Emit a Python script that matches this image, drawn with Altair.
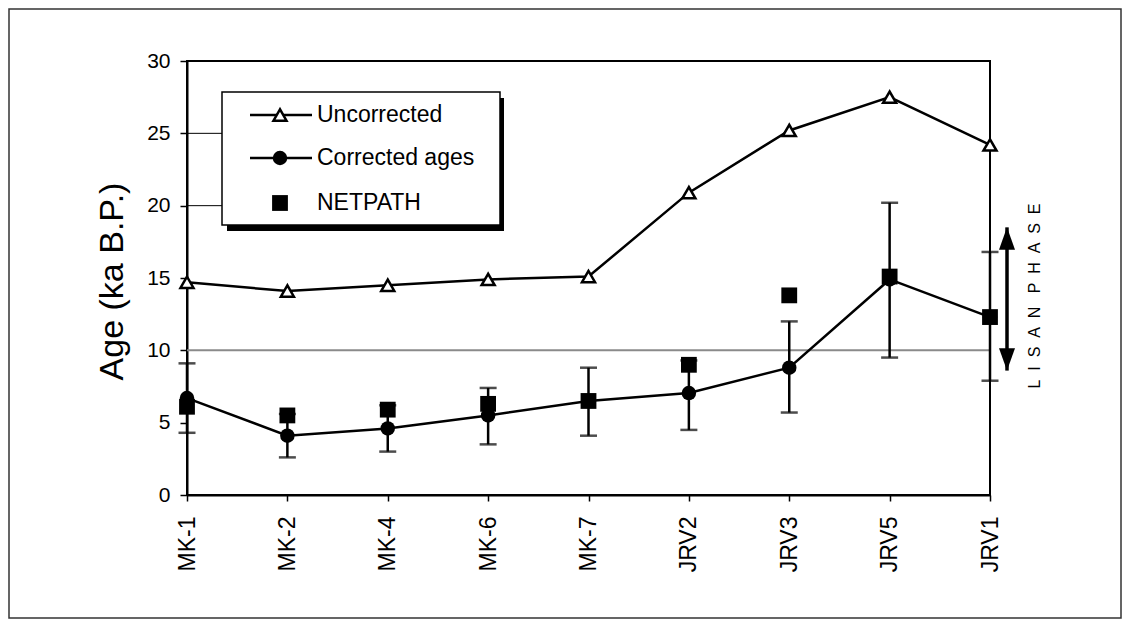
import altair as alt
import pandas as pd

# ---- data ----
samples = ["MK-1", "MK-2", "MK-4", "MK-6", "MK-7", "JRV2", "JRV3", "JRV5", "JRV1"]
uncorrected = [14.7, 14.1, 14.5, 14.9, 15.1, 20.9, 25.2, 27.5, 24.2]
corrected = [6.7, 4.1, 4.6, 5.5, 6.5, 7.05, 8.8, 14.9, 12.3]
err_low = [4.3, 2.6, 3.0, 3.5, 4.1, 4.5, 5.7, 9.5, 7.9]
err_high = [9.1, 5.6, 6.2, 7.4, 8.8, 9.3, 12.0, 20.2, 16.8]
netpath = [6.1, 5.5, 5.9, 6.3, 6.5, 9.0, 13.8, 15.1, 12.3]
y_ticks = [0, 5, 10, 15, 20, 25, 30]
grid_at = [10]
stub_lines = [20, 25]
lisan_range = [8.6, 18.5]
legend_labels = ["Uncorrected", "Corrected ages", "NETPATH"]
lisan_text = "\u00a0\u00a0".join(list("LISAN")) + "\u00a0" * 3 + "\u00a0\u00a0".join(list("PHASE"))

df = pd.DataFrame({
    "sample": samples, "unc": uncorrected, "cor": corrected,
    "lo": err_low, "hi": err_high, "net": netpath,
})

FONT = "Liberation Sans"
W, H = 803, 434
LW = 2.5

xenc = alt.X("sample:N", sort=samples,
             scale=alt.Scale(type="point", padding=0),
             axis=alt.Axis(title=None, labelAngle=270, labelFontSize=23, labelFont=FONT,
                           labelColor="black", labelPadding=15, tickSize=6, tickWidth=1.5,
                           tickColor="black", domainColor="black", domainWidth=2,
                           labelOverlap=False, grid=False))

yscale = alt.Scale(domain=[0, 30], nice=False, zero=True)
yaxis = alt.Axis(values=y_ticks, title="Age (ka B.P.)", titleFontSize=34, titleFont=FONT,
                 titleFontWeight="normal", titleColor="black", titleAngle=270,
                 titleX=-75, titleY=220, titleAlign="center", titleBaseline="middle",
                 labelFontSize=21, labelFont=FONT, labelColor="black", labelPadding=10,
                 tickSize=7, tickWidth=1.5, tickColor="black", domainColor="black",
                 domainWidth=2, grid=False)


def Y(field):
    return alt.Y(field, scale=yscale, axis=yaxis, title="Age (ka B.P.)")


base = alt.Chart(df)

# outer figure border
border = alt.Chart(pd.DataFrame({"a": [0]})).mark_rect(
    fill=None, stroke="#333333", strokeWidth=1.5).encode(
    x=alt.value(-178), x2=alt.value(934), y=alt.value(-52), y2=alt.value(557))

grid = alt.Chart(pd.DataFrame({"v": grid_at})).mark_rule(
    color="#8a8a8a", strokeWidth=2).encode(y=Y("v:Q"), x=alt.value(0), x2=alt.value(W))

stubs = alt.Chart(pd.DataFrame({"v": stub_lines})).mark_rule(
    color="black", strokeWidth=1).encode(y=Y("v:Q"), x=alt.value(0), x2=alt.value(35))

unc_line = base.mark_line(color="black", strokeWidth=LW).encode(x=xenc, y=Y("unc:Q"))
unc_pts = base.mark_point(shape="triangle-up", size=170, filled=True, fill="white",
                          stroke="black", strokeWidth=2.5, opacity=1).encode(x=xenc, y=Y("unc:Q"))

err_rule = base.mark_rule(color="black", strokeWidth=LW).encode(x=xenc, y=Y("lo:Q"), y2="hi:Q")
err_lo = base.mark_tick(color="black", size=17, thickness=2.5).encode(x=xenc, y=Y("lo:Q"))
err_hi = base.mark_tick(color="black", size=17, thickness=2.5).encode(x=xenc, y=Y("hi:Q"))

cor_line = base.mark_line(color="black", strokeWidth=LW).encode(x=xenc, y=Y("cor:Q"))
cor_pts = base.mark_point(shape="circle", size=210, filled=True, color="black",
                          opacity=1).encode(x=xenc, y=Y("cor:Q"))

net_pts = base.mark_point(shape="square", size=250, filled=True, color="black",
                          opacity=1).encode(x=xenc, y=Y("net:Q"))

# Lisan phase double arrow + label
arrow_df = pd.DataFrame({"lo": [lisan_range[0]], "hi": [lisan_range[1]]})
arrow_shaft = alt.Chart(arrow_df).mark_rule(color="black", strokeWidth=3.5).encode(
    x=alt.value(820), y=Y("hi:Q"), y2="lo:Q")
arrow_top = alt.Chart(arrow_df).mark_point(
    shape="M0,0L-1,2.8L1,2.8Z", size=256, filled=True, color="black", opacity=1).encode(
    x=alt.value(820), y=Y("hi:Q"))
arrow_bot = alt.Chart(arrow_df).mark_point(
    shape="M0,0L-1,-2.8L1,-2.8Z", size=256, filled=True, color="black", opacity=1).encode(
    x=alt.value(820), y=Y("lo:Q"))
lisan = alt.Chart(pd.DataFrame({"t": [lisan_text]})).mark_text(
    angle=270, fontSize=16, font=FONT, color="black", align="center", baseline="middle").encode(
    text="t:N", x=alt.value(848), y=alt.value(235))

# legend (drawn by hand, Excel style with drop shadow)
leg_df = pd.DataFrame({"label": legend_labels})
leg_shadow = alt.Chart(pd.DataFrame({"a": [0]})).mark_rect(fill="black").encode(
    x=alt.value(40), x2=alt.value(317), y=alt.value(37), y2=alt.value(170))
leg_box = alt.Chart(pd.DataFrame({"a": [0]})).mark_rect(
    fill="white", stroke="black", strokeWidth=1.5).encode(
    x=alt.value(35), x2=alt.value(313), y=alt.value(31), y2=alt.value(164))
leg_rows = [54, 97, 142]
leg_layers = [leg_shadow, leg_box]
for i, lab in enumerate(legend_labels):
    one = alt.Chart(leg_df).transform_filter(alt.datum.label == lab)
    yy = leg_rows[i]
    if i < 2:
        leg_layers.append(one.mark_rule(color="black", strokeWidth=LW).encode(
            x=alt.value(63), x2=alt.value(125), y=alt.value(yy)))
    if i == 0:
        leg_layers.append(one.mark_point(shape="triangle-up", size=170, filled=True,
                                         fill="white", stroke="black", strokeWidth=2.5,
                                         opacity=1).encode(x=alt.value(93), y=alt.value(yy)))
    elif i == 1:
        leg_layers.append(one.mark_point(shape="circle", size=210, filled=True,
                                         color="black", opacity=1).encode(
            x=alt.value(93), y=alt.value(yy)))
    else:
        leg_layers.append(one.mark_point(shape="square", size=250, filled=True,
                                         color="black", opacity=1).encode(
            x=alt.value(93), y=alt.value(yy)))
    leg_layers.append(one.mark_text(fontSize=23, font=FONT, color="black", align="left",
                                    baseline="middle").encode(
        text="label:N", x=alt.value(130), y=alt.value(yy)))

chart = alt.layer(
    border, grid, stubs,
    unc_line, unc_pts,
    err_rule, err_lo, err_hi,
    cor_line, cor_pts, net_pts,
    arrow_shaft, arrow_top, arrow_bot, lisan,
    *leg_layers,
).properties(
    width=W, height=H,
    autosize=alt.AutoSizeParams(type="none"),
    padding={"left": 179, "top": 53, "right": 133, "bottom": 125},
    background="white",
).configure_view(stroke="black", strokeWidth=2)

chart.save("out.html", embed_options={"renderer": "svg", "actions": False})
